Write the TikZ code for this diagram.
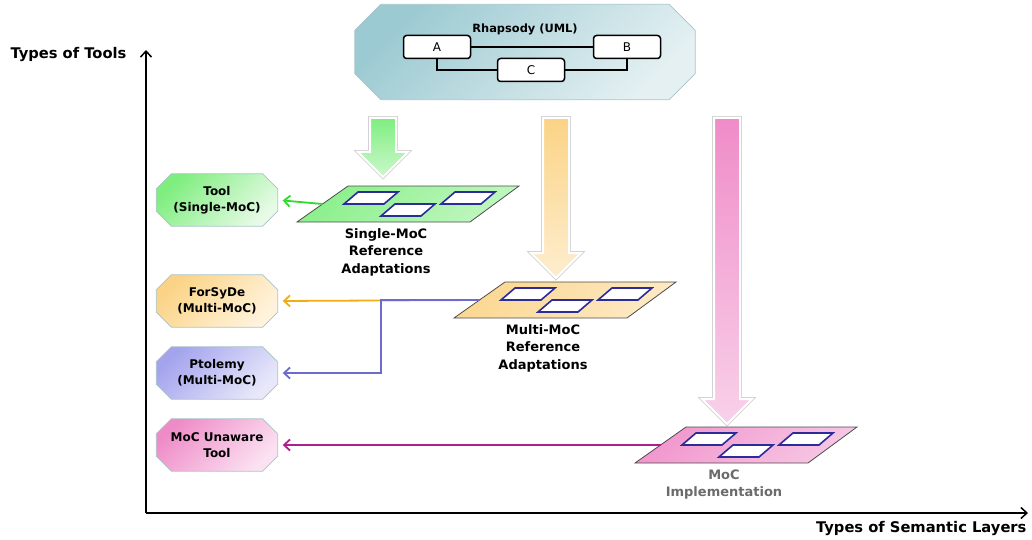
\documentclass[tikz,border=0pt]{standalone}
\usepackage{fontspec}
\setmainfont{DejaVu Sans}
\usepackage{xcolor}
\usetikzlibrary{positioning,arrows.meta,backgrounds,calc}

\definecolor{rhapA}{HTML}{9CCAD2}
\definecolor{rhapB}{HTML}{E4F0F2}
\definecolor{grnA}{HTML}{7FEE7F}
\definecolor{grnB}{HTML}{E6FAE6}
\definecolor{orgA}{HTML}{FBD386}
\definecolor{orgB}{HTML}{FFF3DD}
\definecolor{purA}{HTML}{A4A4EE}
\definecolor{purB}{HTML}{E8E8FA}
\definecolor{pnkA}{HTML}{EF8CC8}
\definecolor{pnkB}{HTML}{FBE2F1}
\definecolor{cellblue}{HTML}{2B2B9A}
\definecolor{grnline}{HTML}{2EDC2E}
\definecolor{orgline}{HTML}{F2AE10}
\definecolor{purline}{HTML}{6C6CCC}
\definecolor{pnkline}{HTML}{B01E8E}
\definecolor{edgegray}{HTML}{A8C4C8}

% octagon behind a node: name, chamfer, colour A, colour B
\newcommand{\octo}[4]{%
  \begin{pgfonlayer}{background}
  \shade[draw=edgegray, line width=0.8pt, top color=#3, bottom color=#4, shading angle=45]
    ([xshift=#2]#1.north west) -- ([xshift=-#2]#1.north east)
    -- ([yshift=-#2]#1.north east) -- ([yshift=#2]#1.south east)
    -- ([xshift=-#2]#1.south east) -- ([xshift=#2]#1.south west)
    -- ([yshift=#2]#1.south west) -- ([yshift=-#2]#1.north west) -- cycle;
  \end{pgfonlayer}}
% plane with three cells: name, x, y, colour
\newcommand{\mocplane}[4]{%
  \shade[draw=black!70, line width=0.8pt, top color=#4!90!white, bottom color=#4!50!white, shading angle=45]
    (#2-111,#3+18) -- (#2+62,#3+18) -- (#2+111,#3-18) -- (#2-60,#3-18) -- cycle;
  \foreach \dx/\dy in {-64/0,-27/12,33/0}
    \draw[cell] (#2+\dx,#3+\dy) -- ++(40,0) -- ++(14,-12) -- ++(-40,0) -- cycle;
  \coordinate (#1) at (#2-85.5,#3);
  \coordinate (#1-b) at (#2-22,#3+18);
}
% big down arrow: x, top, tip, colour
\newcommand{\bigdown}[4]{%
  \shade[preaction={draw=gray!35,line width=3.6pt}, draw=white, line width=2pt,
    top color=#4, bottom color=#4!40!white]
    (#1-13,#2) -- (#1+13,#2) -- (#1+13,#3-25) -- (#1+25,#3-25) -- (#1,#3)
    -- (#1-25,#3-25) -- (#1-13,#3-25) -- cycle;
}

\begin{document}
\begin{tikzpicture}[x=1pt,y=-1pt,>={Straight Barb[length=6pt,width=11pt]},
  toolnode/.style={minimum width=121pt, minimum height=52pt, inner sep=0pt, align=center,
    font=\bfseries\fontsize{12}{16}\selectfont},
  umlbox/.style={draw, line width=1.5pt, rounded corners=3pt, fill=white,
    minimum width=67pt, minimum height=23pt, inner sep=0pt, text depth=-3pt,
    font=\fontsize{12}{13}\selectfont},
  cell/.style={draw=cellblue, line width=1.6pt, fill=white, line join=miter},
  axis/.style={line width=1.5pt, ->},
  planelabel/.style={align=center, font=\bfseries\fontsize{13}{17.5}\selectfont},
  axislabel/.style={font=\bfseries\fontsize{14.7}{17}\selectfont},
  link/.style={line width=1.8pt, ->, shorten >=5pt}]
\useasboundingbox (0,0) rectangle (1032,540);

% Rhapsody model on top
\node[minimum width=340pt, minimum height=95pt] (rhap) at (525,52) {};
\octo{rhap}{26pt}{rhapA}{rhapB}
\node[font=\bfseries\fontsize{11.4}{13}\selectfont] (rhaptitle) at (525,29) {Rhapsody (UML)};
\node[umlbox] (A) at (437,47) {A};
\node[umlbox] (B) at (627,47) {B};
\node[umlbox] (C) at (531,70) {C};
\draw[line width=1.5pt] (A) -- (B);
\draw[line width=1.5pt] (A.south) |- (C.west);
\draw[line width=1.5pt] (C.east) -| (B.south);

% axes
\coordinate (origin) at (146,513);
\coordinate (ytop) at (146,50);
\coordinate (xend) at (1028,513);
\draw[axis] (origin) -- (ytop);
\draw[axis] (origin) -- (xend);
\node[axislabel, anchor=west] (ylab) at (7,55) {Types of Tools};
\node[axislabel, anchor=east] (xlab) at (1030,528) {Types of Semantic Layers};

% big arrows
\bigdown{383}{118}{177}{grnA}
\bigdown{556}{118}{278}{orgA}
\bigdown{727}{118}{424}{pnkA}

% planes
\mocplane{gplane}{408}{204}{grnA}
\mocplane{oplane}{565}{300}{orgA}
\mocplane{pplane}{746}{445}{pnkA}
\node[planelabel, below=3pt of gplane-b] (glab) {Single-MoC\\Reference\\Adaptations};
\node[planelabel, below=3pt of oplane-b] (olab) {Multi-MoC\\Reference\\Adaptations};
\node[planelabel, text=black!58, below=3pt of pplane-b] (plab) {MoC\\Implementation};

% tools
\node[toolnode] (single) at (217,200) {Tool\\(Single-MoC)};
\node[toolnode] (forsyde) at (217,301) {ForSyDe\\(Multi-MoC)};
\node[toolnode] (ptolemy) at (217,373) {Ptolemy\\(Multi-MoC)};
\node[toolnode] (unaware) at (217,445) {MoC Unaware\\Tool};
\octo{single}{15pt}{grnA}{grnB}
\octo{forsyde}{15pt}{orgA}{orgB}
\octo{ptolemy}{15pt}{purA}{purB}
\octo{unaware}{15pt}{pnkA}{pnkB}

% links
\coordinate (split) at (381,300);
\draw[link, grnline] (gplane) -- (single.east);
\draw[link, orgline] (oplane) -- (forsyde.east);
\draw[link, purline] (oplane) -- (split) |- (ptolemy.east);
\draw[link, pnkline] (pplane) -- (unaware.east);
\end{tikzpicture}
\end{document}
